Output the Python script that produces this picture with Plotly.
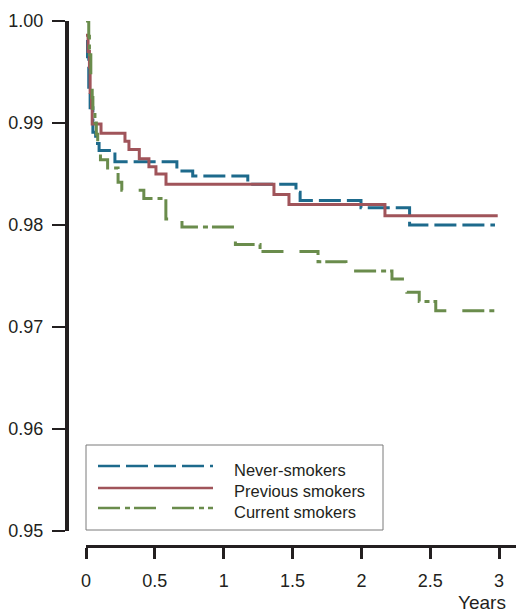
import plotly.graph_objects as go

# ---------------- data ----------------
never_t = [0, 0.01, 0.02, 0.03, 0.05, 0.07, 0.095, 0.21, 0.66, 0.775, 1.175, 1.525, 1.555, 1.997, 2.35, 2.97]
never_s = [0.998, 0.9965, 0.9935, 0.9915, 0.9891, 0.9880, 0.9873, 0.9862, 0.9853, 0.9848, 0.9840, 0.9832, 0.9824, 0.9817, 0.9800, 0.9800]

prev_t = [0, 0.015, 0.025, 0.03, 0.04, 0.045, 0.109, 0.283, 0.312, 0.387, 0.457, 0.508, 0.581, 1.365, 1.474, 2.171, 2.99]
prev_s = [0.9986, 0.9970, 0.9955, 0.9930, 0.9915, 0.9899, 0.9890, 0.9882, 0.9874, 0.9865, 0.9857, 0.9850, 0.9840, 0.9830, 0.9820, 0.9809, 0.9809]

curr_t = [0, 0.02, 0.025, 0.035, 0.045, 0.05, 0.065, 0.075, 0.085, 0.105, 0.157, 0.233, 0.26, 0.42, 0.58, 0.697,
          1.085, 1.264, 1.685, 1.888, 2.222, 2.33, 2.42, 2.54, 2.97]
curr_s = [1.0, 0.9985, 0.9967, 0.9945, 0.9925, 0.9910, 0.9900, 0.9889, 0.9875, 0.9864, 0.9856, 0.9842, 0.9834, 0.9826,
          0.9806, 0.9798, 0.9781, 0.9774, 0.9764, 0.9755, 0.9747, 0.9734, 0.9725, 0.9716, 0.9716]

series_names = ["Never-smokers", "Previous smokers", "Current smokers"]
x_ticks = [0, 0.5, 1, 1.5, 2, 2.5, 3]
x_tick_labels = ["0", "0.5", "1", "1.5", "2", "2.5", "3"]
y_ticks = [0.95, 0.96, 0.97, 0.98, 0.99, 1.00]
y_tick_labels = ["0.95", "0.96", "0.97", "0.98", "0.99", "1.00"]

# ---------------- styles ----------------
BLUE = "#1d6a8c"
RED = "#a0545a"
GREEN = "#6a8c4c"
INK = "#231f20"
FONT = "Liberation Sans, Arial, sans-serif"
dash_never = "22px,6px"
dash_curr = "22px,5px,5px,4px,22px,16px"
styles = [(BLUE, dash_never), (RED, "solid"), (GREEN, dash_curr)]

W, H = 516, 613
ML, MR, MT, MB = 67, 0, 21, 67
PW, PH = W - ML - MR, H - MT - MB


def px(x):
    return (x - ML) / PW


def py(y):
    return (H - MB - y) / PH


fig = go.Figure()
for (t, s), name, (col, dash) in zip([(never_t, never_s), (prev_t, prev_s), (curr_t, curr_s)], series_names, styles):
    fig.add_trace(go.Scatter(x=t, y=s, mode="lines", name=name, line=dict(color=col, width=3, dash=dash, shape="hv"),
                             showlegend=False, hoverinfo="skip"))

# ---------------- manual legend ----------------
shapes = [dict(type="rect", xref="paper", yref="paper", x0=px(86), x1=px(383), y0=py(445), y1=py(530),
               line=dict(color="#7a7a7a", width=1), fillcolor="white", layer="below")]
annotations = []
rows_line = [466, 488, 508]
rows_text = [470, 491, 512]
for name, (col, dash), yl, yt in zip(series_names, styles, rows_line, rows_text):
    shapes.append(dict(type="line", xref="paper", yref="paper", x0=px(98), x1=px(213), y0=py(yl), y1=py(yl),
                       line=dict(color=col, width=2.5, dash=dash)))
    annotations.append(dict(xref="paper", yref="paper", x=px(232), y=py(yt), text=name, showarrow=False,
                            xanchor="left", yanchor="middle", font=dict(size=16.5, color=INK, family=FONT)))

annotations.append(dict(xref="paper", yref="paper", x=px(456), y=py(602), text="Years", showarrow=False,
                        xanchor="left", yanchor="middle", font=dict(size=19, color=INK, family=FONT)))

fig.update_layout(
    width=W, height=H, margin=dict(l=ML, r=MR, t=MT, b=MB),
    paper_bgcolor="white", plot_bgcolor="white",
    font=dict(family=FONT, color=INK),
    shapes=shapes, annotations=annotations,
    xaxis=dict(domain=[px(86), 1], range=[0, (W - 86) / 137.7], anchor="free", position=0,
               showline=True, linecolor=INK, linewidth=3, showgrid=False, zeroline=False,
               ticks="outside", ticklen=11, tickwidth=2.5, tickcolor=INK,
               tickvals=x_ticks, ticktext=x_tick_labels, tickfont=dict(size=18, color=INK, family=FONT),
               ticklabelstandoff=6),
    yaxis=dict(domain=[py(531), 1], range=[0.95, 1.00], anchor="free", position=0,
               showline=True, linecolor=INK, linewidth=4, showgrid=False, zeroline=False,
               ticks="outside", ticklen=13, tickwidth=2, tickcolor=INK,
               tickvals=y_ticks, ticktext=y_tick_labels, tickfont=dict(size=18, color=INK, family=FONT),
               ticklabelstandoff=5),
)

fig.write_html("out.html", config={"displayModeBar": False},
               post_script="document.body.style.margin='0';document.body.style.overflow='hidden';")
